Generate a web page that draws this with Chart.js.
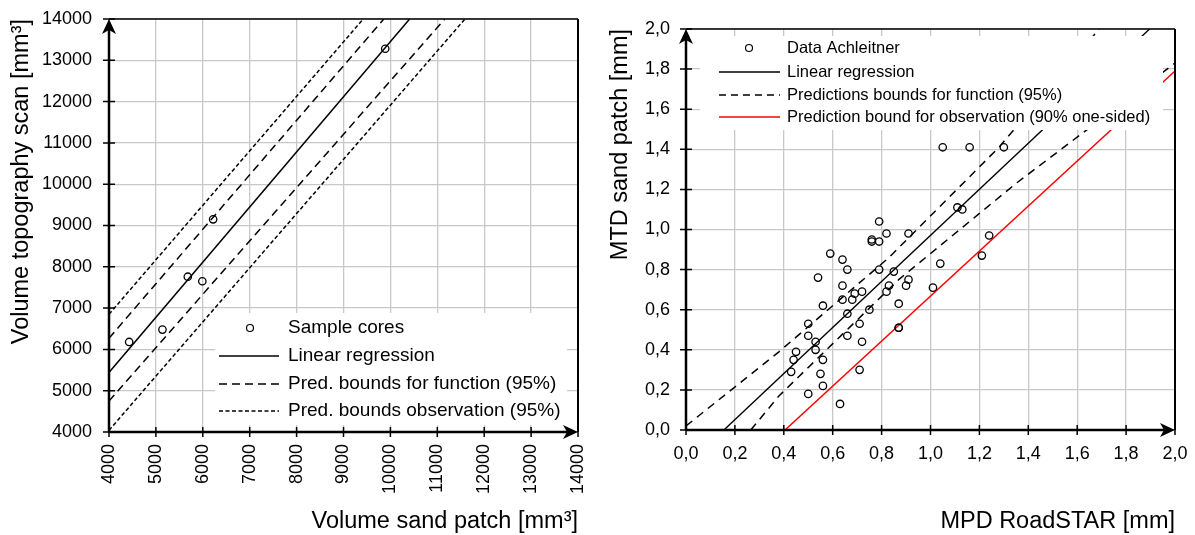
<!DOCTYPE html>
<html>
<head>
<meta charset="utf-8">
<script src="https://cdn.jsdelivr.net/npm/chart.js@4.4.1/dist/chart.umd.min.js"></script>
<style>
  body { margin: 0; background: #fff; }
  #wrap { position: relative; width: 1195px; height: 535px; }
  #left { position: absolute; left: 0; top: 0; }
  #right { position: absolute; left: 595px; top: 0; }
</style>
</head>
<body>
<div id="wrap">
  <canvas id="left" width="595" height="535"></canvas>
  <canvas id="right" width="600" height="535"></canvas>
</div>
<script>
// ---- left chart: sample cores ----
const coreSand = [4430, 5140, 5680, 5990, 6220, 9890];
const coreScan = [6180, 6480, 7760, 7650, 9150, 13280];
const regLX = [4000, 10410];
const regLY = [5440, 14000];
const funcUpLX = [4000, 9860];
const funcUpLY = [6270, 14000];
const funcLoLX = [4000, 11160];
const funcLoLY = [4750, 14000];
const obsUpLX = [4000, 9420];
const obsUpLY = [6850, 14000];
const obsLoLX = [4000, 11590];
const obsLoLY = [4040, 14000];
const leftTicks = [4000, 5000, 6000, 7000, 8000, 9000, 10000, 11000, 12000, 13000, 14000];

// ---- right chart: Achleitner data ----
const mpd = [0.79, 0.82, 0.76, 0.76, 0.79, 0.59, 0.64, 0.66, 0.54, 0.79, 0.85,
  1.05, 1.16, 1.30, 1.11, 1.13, 0.91, 1.24, 1.21, 1.04, 0.91,
  0.64, 0.69, 0.72, 0.64, 0.68, 0.56, 0.83, 0.82, 0.87, 0.66, 0.75,
  0.50, 0.71, 0.50, 0.66, 0.53, 0.72, 0.53, 0.45, 0.44, 0.56, 0.43,
  0.55, 0.71, 0.56, 0.50, 0.63, 0.87, 0.87, 0.90, 1.01];
const mtd = [1.04, 0.98, 0.95, 0.94, 0.94, 0.88, 0.85, 0.80, 0.76, 0.80, 0.79,
  1.41, 1.41, 1.41, 1.11, 1.10, 0.98, 0.97, 0.87, 0.83, 0.75,
  0.72, 0.68, 0.69, 0.65, 0.65, 0.62, 0.72, 0.69, 0.63, 0.58, 0.60,
  0.53, 0.53, 0.47, 0.47, 0.44, 0.44, 0.40, 0.39, 0.35, 0.35, 0.29,
  0.28, 0.30, 0.22, 0.18, 0.13, 0.51, 0.51, 0.72, 0.71];
const regRX = [0.155, 1.896];
const regRY = [0, 2.0];
const funcUpRX = [0, 0.38, 0.83, 1.28, 1.69];
const funcUpRY = [0.02, 0.39, 0.86, 1.41, 2.0];
const funcLoRX = [0.265, 0.38, 0.87, 1.35, 2.0];
const funcLoRY = [0, 0.17, 0.75, 1.23, 1.83];
const obsRX = [0.405, 2.0];
const obsRY = [0, 1.79];
const rightTicks = [0, 0.2, 0.4, 0.6, 0.8, 1.0, 1.2, 1.4, 1.6, 1.8, 2.0];

const FONT = "'Liberation Sans', Arial, sans-serif";
Chart.defaults.font.family = FONT;
Chart.defaults.color = '#000';

function pts(xs, ys) {
  return xs.map((x, i) => ({ x: x, y: ys[i] }));
}

function lineSet(label, xs, ys, dash, color, width) {
  return {
    label: label,
    data: pts(xs, ys),
    showLine: true,
    borderColor: color || '#000',
    borderWidth: width || 1.5,
    borderDash: dash || [],
    pointRadius: 0,
    fill: false
  };
}

// axes frame, arrows, crossing tick marks, and legend box
const framePlugin = {
  id: 'frame',
  afterDatasetsDraw(chart, args, opts) {
    const { ctx } = chart;
    const lg = opts.legend;
    if (!lg) return;
    ctx.save();
    ctx.fillStyle = '#fff';
    ctx.fillRect(lg.box[0], lg.box[1], lg.box[2], lg.box[3]);
    ctx.font = lg.size + 'px ' + FONT;
    ctx.textBaseline = 'middle';
    ctx.textAlign = 'left';
    lg.items.forEach((it, i) => {
      const yy = lg.rows[i];
      ctx.strokeStyle = it.color || '#000';
      ctx.lineWidth = it.width || 1.5;
      ctx.setLineDash(it.dash || []);
      ctx.beginPath();
      if (it.kind === 'circle') {
        ctx.arc(lg.circleX, yy, 3.5, 0, Math.PI * 2);
      } else {
        ctx.moveTo(lg.symX[0], yy);
        ctx.lineTo(lg.symX[1], yy);
      }
      ctx.stroke();
      ctx.setLineDash([]);
      ctx.fillStyle = '#000';
      ctx.fillText(it.text, lg.textX, yy);
    });
    ctx.restore();
  },
  afterDraw(chart) {
    const { ctx, chartArea: a, scales } = chart;
    const x = scales.x, y = scales.y;
    ctx.save();
    ctx.strokeStyle = '#000';
    ctx.fillStyle = '#000';
    // top and right border
    ctx.lineWidth = 1.5;
    ctx.beginPath();
    ctx.moveTo(a.left, a.top);
    ctx.lineTo(a.right, a.top);
    ctx.stroke();
    ctx.lineWidth = 2;
    ctx.beginPath();
    ctx.moveTo(a.right, a.top);
    ctx.lineTo(a.right, a.bottom);
    ctx.stroke();
    // tick crosses
    ctx.lineWidth = 1.5;
    ctx.beginPath();
    x.ticks.forEach(t => {
      const px = x.getPixelForValue(t.value);
      ctx.moveTo(px, a.bottom - 5);
      ctx.lineTo(px, a.bottom + 5);
    });
    y.ticks.forEach(t => {
      const py = y.getPixelForValue(t.value);
      ctx.moveTo(a.left - 6, py);
      ctx.lineTo(a.left + 6, py);
    });
    ctx.stroke();
    // main axes
    ctx.lineWidth = 2.5;
    ctx.beginPath();
    ctx.moveTo(a.left, a.bottom);
    ctx.lineTo(a.left, a.top + 6);
    ctx.moveTo(a.left, a.bottom);
    ctx.lineTo(a.right - 6, a.bottom);
    ctx.stroke();
    // arrow heads
    ctx.beginPath();
    ctx.moveTo(a.left, a.top);
    ctx.lineTo(a.left - 7, a.top + 15);
    ctx.lineTo(a.left, a.top + 11);
    ctx.lineTo(a.left + 7, a.top + 15);
    ctx.closePath();
    ctx.fill();
    ctx.beginPath();
    ctx.moveTo(a.right, a.bottom);
    ctx.lineTo(a.right - 15, a.bottom - 7);
    ctx.lineTo(a.right - 11, a.bottom);
    ctx.lineTo(a.right - 15, a.bottom + 7);
    ctx.closePath();
    ctx.fill();
    ctx.restore();
  }
};

const gridOpts = { color: '#c8c8c8', lineWidth: 1.3, drawTicks: false };

function makeScales(o) {
  return {
    x: {
      type: 'linear', min: o.min, max: o.max,
      afterBuildTicks: s => { s.ticks = o.ticks.map(v => ({ value: v })); },
      afterFit: s => {
        s.height = o.xHeight;
        s.paddingLeft = 0; s.paddingRight = 0;
      },
      grid: gridOpts,
      border: { display: false },
      ticks: {
        autoSkip: false, font: { size: 18 }, padding: o.xPad,
        minRotation: o.rot, maxRotation: o.rot,
        callback: o.fmt
      },
      title: {
        display: true, text: o.xTitle, align: 'end',
        font: { size: 23.5 }, padding: { top: 0, bottom: o.xTitlePad }
      }
    },
    y: {
      type: 'linear', min: o.min, max: o.max,
      afterBuildTicks: s => { s.ticks = o.ticks.map(v => ({ value: v })); },
      afterFit: s => {
        s.width = o.yWidth;
        s.paddingTop = 0; s.paddingBottom = 0;
      },
      grid: gridOpts,
      border: { display: false },
      ticks: { autoSkip: false, font: { size: 18 }, padding: o.yPad, callback: o.fmt },
      title: {
        display: true, text: o.yTitle, align: 'end',
        font: { size: 23.5 }, padding: { top: o.yTitlePad, bottom: 0 }
      }
    }
  };
}

const pointStyle = {
  pointRadius: 3.7, pointHoverRadius: 3.7, pointBorderWidth: 1.3,
  pointBackgroundColor: 'rgba(0,0,0,0)', pointBorderColor: '#000', showLine: false
};

new Chart(document.getElementById('left'), {
  type: 'scatter',
  data: {
    datasets: [
      Object.assign({ label: 'Sample cores', data: pts(coreSand, coreScan) }, pointStyle),
      lineSet('Linear regression', regLX, regLY),
      lineSet('Pred. bounds for function (95%)', funcUpLX, funcUpLY, [8, 5]),
      lineSet('Pred. bounds for function (95%)', funcLoLX, funcLoLY, [8, 5]),
      lineSet('Pred. bounds observation (95%)', obsUpLX, obsUpLY, [4, 2.5]),
      lineSet('Pred. bounds observation (95%)', obsLoLX, obsLoLY, [4, 2.5])
    ]
  },
  options: {
    responsive: false, animation: false,
    layout: { padding: { left: 0, top: 19, right: 17, bottom: 0 } },
    plugins: {
      legend: { display: false }, tooltip: { enabled: false },
      frame: {
        legend: {
          box: [215, 313, 352, 112], rows: [328, 356, 384, 411], size: 19,
          circleX: 250, symX: [219, 279], textX: 288,
          items: [
            { kind: 'circle', text: 'Sample cores', width: 1.2 },
            { kind: 'line', text: 'Linear regression' },
            { kind: 'line', text: 'Pred. bounds for function (95%)', dash: [8, 5] },
            { kind: 'line', text: 'Pred. bounds observation (95%)', dash: [4, 2.5] }
          ]
        }
      }
    },
    scales: makeScales({
      min: 4000, max: 14000, ticks: leftTicks, fmt: v => String(v),
      xHeight: 103, yWidth: 109, xPad: 12, yPad: 17, rot: 90,
      xTitle: 'Volume sand patch [mm³]', yTitle: 'Volume topography scan [mm³]',
      xTitlePad: -1, yTitlePad: 7
    })
  },
  plugins: [framePlugin]
});

new Chart(document.getElementById('right'), {
  type: 'scatter',
  data: {
    datasets: [
      Object.assign({ label: 'Data Achleitner', data: pts(mpd, mtd) }, pointStyle),
      lineSet('Linear regression', regRX, regRY, [], '#000', 1.4),
      lineSet('Predictions bounds for function (95%)', funcUpRX, funcUpRY, [8, 6], '#000', 1.5),
      lineSet('Predictions bounds for function (95%)', funcLoRX, funcLoRY, [8, 6], '#000', 1.5),
      lineSet('Prediction bound for observation (90% one-sided)', obsRX, obsRY, [], '#ff0000', 1.5)
    ]
  },
  options: {
    responsive: false, animation: false,
    layout: { padding: { left: 0, top: 29, right: 20, bottom: 0 } },
    plugins: {
      legend: { display: false }, tooltip: { enabled: false },
      frame: {
        legend: {
          box: [105, 36, 463, 94], rows: [48, 72, 95, 117], size: 16.5,
          circleX: 154, symX: [124, 185], textX: 192,
          items: [
            { kind: 'circle', text: 'Data Achleitner', width: 1.2 },
            { kind: 'line', text: 'Linear regression' },
            { kind: 'line', text: 'Predictions bounds for function (95%)', dash: [7, 5] },
            { kind: 'line', text: 'Prediction bound for observation (90% one-sided)', color: '#ff0000' }
          ]
        }
      }
    },
    scales: makeScales({
      min: 0, max: 2, ticks: rightTicks, fmt: v => v.toFixed(1).replace('.', ','),
      xHeight: 105, yWidth: 91, xPad: 13, yPad: 16, rot: 0,
      xTitle: 'MPD RoadSTAR [mm]', yTitle: 'MTD sand patch [mm]',
      xTitlePad: -1, yTitlePad: 11
    })
  },
  plugins: [framePlugin]
});
</script>
</body>
</html>
